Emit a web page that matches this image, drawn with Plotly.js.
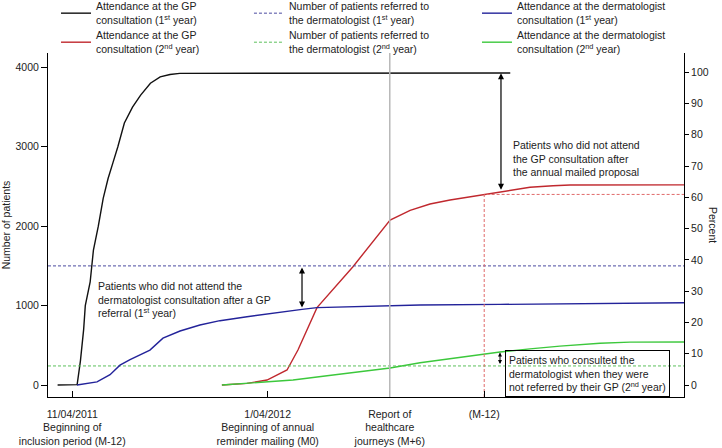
<!DOCTYPE html>
<html>
<head>
<meta charset="utf-8">
<script src="https://cdn.plot.ly/plotly-3.0.1.min.js"></script>
<style>html,body{margin:0;padding:0;background:#fff;}#chart{width:722px;height:448px;}</style>
</head>
<body>
<div id="chart"></div>
<script>
// x in months relative to 11/04/2011 (start of inclusion period)
const gp1X = [-0.9, 0.3, 0.5, 0.7, 0.8, 1.1, 1.3, 1.6, 1.9, 2.2, 2.5, 2.8, 3.2, 3.7, 4.2, 4.8, 5.4, 6.0, 6.6, 26.9];
const gp1Y = [0, 5, 300, 700, 1000, 1300, 1700, 2000, 2350, 2600, 2800, 3000, 3300, 3500, 3650, 3800, 3880, 3910, 3925, 3930];

const derm1X = [0.29, 1.52, 2.32, 2.93, 3.55, 4.16, 4.77, 5.57, 6.62, 7.84, 9.07, 10.73, 12.45, 14.11, 15.03, 17.06, 19.52, 21.36, 26.27, 32.41, 37.57];
const derm1Y = [0, 40, 130, 250, 320, 380, 440, 590, 680, 756, 810, 860, 910, 953, 974, 985, 995, 1007, 1015, 1025, 1035];

const gp2X = [9.19, 10.73, 11.96, 12.75, 13.19, 13.86, 15.03, 17.24, 19.52, 20.75, 21.97, 23.20, 24.43, 25.29, 26.33, 26.89, 28.11, 29.53, 30.57, 37.57];
const gp2Y = [0, 20, 63, 139, 189, 441, 974, 1490, 2078, 2200, 2280, 2330, 2370, 2395, 2434, 2456, 2490, 2510, 2519, 2520];

const derm2X = [9.19, 11.52, 13.56, 15.65, 17.67, 19.52, 21.36, 23.2, 25.29, 26.27, 28.11, 29.95, 32.41, 34.25, 37.57];
const derm2Y = [0, 29, 63, 117, 168, 215, 280, 330, 390, 415, 455, 490, 525, 540, 541];

const referred1 = 1500;   // patients referred to the dermatologist, 1st year
const referred2 = 240;    // 2nd year
const gp2AtM12 = 2400;    // GP attendance level at (M-12)
const xStart = -1.49, xEnd = 37.57;
const yMin = -151, yMax = 4181;
const perPercent = 39.4;  // patients per percent (100% = GP attendance 1st year)

const tickX = [0, 12, 19.5, 25.3];
const tickText = [
  '11/04/2011<br>Beginning of<br>inclusion period (M-12)',
  '1/04/2012<br>Beginning of annual<br>reminder mailing (M0)',
  'Report of<br>healthcare<br>journeys (M+6)',
  '(M-12)'
];
const leftTicks = [0, 1000, 2000, 3000, 4000];
const rightTicks = [0, 10, 20, 30, 40, 50, 60, 70, 80, 90, 100];

const names = {
  gp1: 'Attendance at the GP<br>consultation (1<sup>st</sup> year)',
  gp2: 'Attendance at the GP<br>consultation (2<sup>nd</sup> year)',
  ref1: 'Number of patients referred to<br>the dermatologist (1<sup>st</sup> year)',
  ref2: 'Number of patients referred to<br>the dermatologist (2<sup>nd</sup> year)',
  d1: 'Attendance at the dermatologist<br>consultation (1<sup>st</sup> year)',
  d2: 'Attendance at the dermatologist<br>consultation (2<sup>nd</sup> year)'
};

const C = {black:'#111111', red:'#c0282e', blue:'#23239a', green:'#3cc83c',
           dblue:'#4a4aa0', dgreen:'#5cc05c', dred:'#e06a6a', grey:'#b8b8b8'};

const traces = [
  {x: gp1X, y: gp1Y, mode:'lines', name: names.gp1, line:{color:C.black, width:1.4}, legend:'legend'},
  {x: gp2X, y: gp2Y, mode:'lines', name: names.gp2, line:{color:C.red, width:1.4}, legend:'legend4'},
  {x: [xStart, xEnd], y: [referred1, referred1], mode:'lines', name: names.ref1, line:{color:C.dblue, width:1, dash:'3px,2px'}, legend:'legend2'},
  {x: [xStart, xEnd], y: [referred2, referred2], mode:'lines', name: names.ref2, line:{color:C.dgreen, width:1, dash:'3px,2px'}, legend:'legend5'},
  {x: derm1X, y: derm1Y, mode:'lines', name: names.d1, line:{color:C.blue, width:1.4}, legend:'legend3'},
  {x: derm2X, y: derm2Y, mode:'lines', name: names.d2, line:{color:C.green, width:1.4}, legend:'legend6'},
  {x: [tickX[3], tickX[3], xEnd], y: [yMin, gp2AtM12, gp2AtM12], mode:'lines', showlegend:false, hoverinfo:'skip', line:{color:C.dred, width:1, dash:'3px,2px'}},
  {x: [], y: [], yaxis:'y2', showlegend:false, hoverinfo:'skip'}
];

const fs = 10.5;
function leg(x, y) {
  return {x:x, y:y, xanchor:'left', yanchor:'top', bgcolor:'rgba(0,0,0,0)', borderwidth:0,
    font:{size:fs, color:'#222'}, tracegroupgap:0, orientation:'v'};
}
const row1 = 1.1744, row2 = 1.09;
const col1 = 0.0126, col2 = 0.316, col3 = 0.6745;

const layout = {
  width:722, height:448,
  margin:{l:48, r:38, t:53, b:51, pad:0, autoexpand:false},
  paper_bgcolor:'#fff', plot_bgcolor:'#fff',
  font:{family:'"Liberation Sans", Arial, sans-serif', size:fs, color:'#222'},
  showlegend:true,
  legend: leg(col1, row1), legend2: leg(col2, row1), legend3: leg(col3, row1),
  legend4: leg(col1, row2), legend5: leg(col2, row2), legend6: leg(col3, row2),
  xaxis:{range:[xStart, xEnd], tickvals:tickX, ticktext:tickText, ticks:'inside', ticklen:6,
    ticklabelstandoff:7,
    tickcolor:'#000', showline:true, linecolor:'#000', linewidth:1, showgrid:false, zeroline:false,
    tickfont:{size:fs, color:'#222'}},
  yaxis:{range:[yMin, yMax], tickvals:leftTicks, ticks:'outside', ticklen:6, tickcolor:'#000',
    showline:true, linecolor:'#000', linewidth:1, showgrid:false, zeroline:false,
    tickfont:{size:fs, color:'#222'}, title:{text:'Number of patients', standoff:3, font:{size:fs, color:'#222'}}},
  yaxis2:{overlaying:'y', side:'right', range:[yMin/perPercent, yMax/perPercent], tickvals:rightTicks,
    ticks:'outside', ticklen:4, tickcolor:'#000', showline:true, linecolor:'#000', linewidth:1,
    showgrid:false, zeroline:false, tickfont:{size:fs, color:'#222'}},
  shapes:[
    {type:'line', xref:'x', yref:'paper', x0:tickX[2], x1:tickX[2], y0:0, y1:1, line:{color:C.grey, width:1.5}}
  ],
  annotations:[
    {xref:'paper', yref:'paper', x:1.0456, y:0.5, xanchor:'center', yanchor:'middle', text:'Percent', textangle:90, showarrow:false,
      font:{size:fs, color:'#222'}},
    // double arrow GP
    {x:26.33, y:3925, ax:26.33, ay:2440, xref:'x', yref:'y', axref:'x', ayref:'y', text:'', showarrow:true,
      arrowside:'end+start', arrowhead:2, arrowsize:1, arrowwidth:1.2, arrowcolor:'#000'},
    {x:26.95, y:2855, xref:'x', yref:'y', xanchor:'left', yanchor:'middle', align:'left', showarrow:false,
      text:'Patients who did not attend<br>the GP consultation after<br>the annual mailed proposal'},
    // double arrow dermatologist 1st year
    {x:14.11, y:1480, ax:14.11, ay:958, xref:'x', yref:'y', axref:'x', ayref:'y', text:'', showarrow:true,
      arrowside:'end+start', arrowhead:2, arrowsize:1, arrowwidth:1.2, arrowcolor:'#000'},
    {x:1.45, y:1083, xref:'x', yref:'y', xanchor:'left', yanchor:'middle', align:'left', showarrow:false,
      text:'Patients who did not attend the<br>dermatologist consultation after a GP<br>referral (1<sup>st</sup> year)'},
    // small double arrow dermatologist 2nd year
    {x:26.27, y:410, ax:26.27, ay:245, xref:'x', yref:'y', axref:'x', ayref:'y', text:'', showarrow:true,
      arrowside:'end+start', arrowhead:2, arrowsize:0.8, arrowwidth:1, arrowcolor:'#000'},
    {x:26.58, y:0, xref:'x', yref:'paper', xanchor:'left', yanchor:'bottom', align:'left', showarrow:false,
      bordercolor:'#000', borderwidth:1, borderpad:3,
      text:'Patients who consulted the<br>dermatologist when they were<br>not referred by their GP (2<sup>nd</sup> year)'}
  ]
};

Plotly.newPlot('chart', traces, layout, {displayModeBar:false, staticPlot:true});
</script>
</body>
</html>
